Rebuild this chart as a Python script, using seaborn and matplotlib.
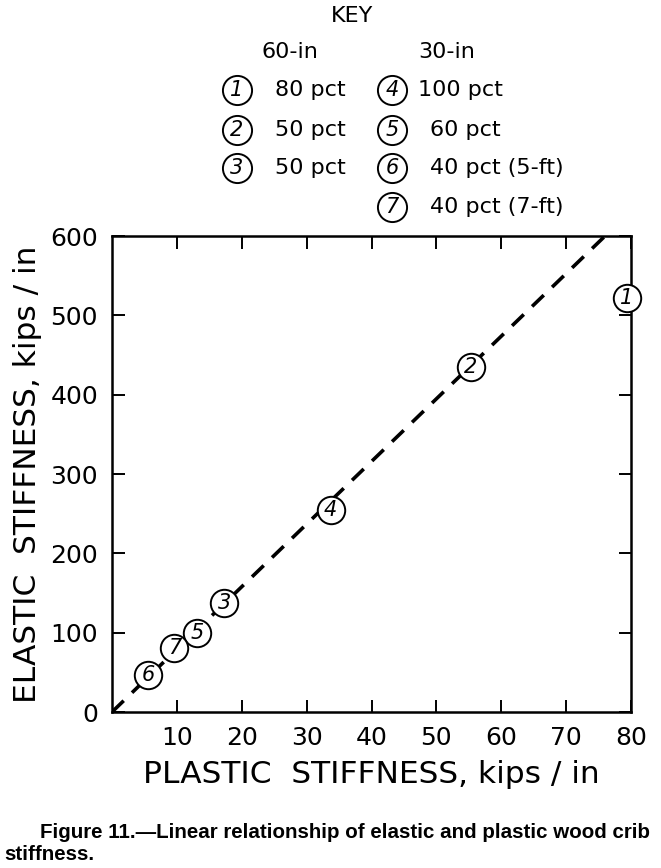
import matplotlib
matplotlib.use("Agg")
import matplotlib.pyplot as plt
import seaborn as sns
import pandas as pd

# ---- data ----
point_ids = ["1", "2", "3", "4", "5", "6", "7"]
plastic = [79.4, 55.3, 17.3, 33.7, 13.1, 5.6, 9.6]
elastic = [522, 435, 137, 255, 100, 47, 81]
fit_x = [0, 76]
fit_y = [0, 600]
x_ticks = [10, 20, 30, 40, 50, 60, 70, 80]
y_ticks = [0, 100, 200, 300, 400, 500, 600]
key_60_ids = ["1", "2", "3"]
key_60_labels = ["80 pct", "50 pct", "50 pct"]
key_30_ids = ["4", "5", "6", "7"]
key_30_labels = ["100 pct", "60 pct", "40 pct (5-ft)", "40 pct (7-ft)"]

df = pd.DataFrame({"id": point_ids, "plastic": plastic, "elastic": elastic})

sns.set_theme(style="ticks")
plt.rcParams["font.family"] = ["DejaVu Sans"]
plt.rcParams["text.color"] = "black"
plt.rcParams["axes.labelcolor"] = "black"
plt.rcParams["xtick.color"] = "black"
plt.rcParams["ytick.color"] = "black"

W, H = 661, 868
fig = plt.figure(figsize=(W / 100, H / 100), dpi=100)
ax = fig.add_axes([112 / W, 1 - 712 / H, (631 - 112) / W, (712 - 236) / H])

# dashed fit line
sns.lineplot(x=fit_x, y=fit_y, ax=ax, color="black", linewidth=2.6,
             dashes=False, linestyle=(0, (4.5, 3.2)), zorder=1)

# circle markers
sns.scatterplot(data=df, x="plastic", y="elastic", ax=ax, s=390,
                facecolor="white", edgecolor="black", linewidth=1.4,
                zorder=3, clip_on=False)
for _, r in df.iterrows():
    ax.text(r["plastic"], r["elastic"], r["id"], ha="center", va="center",
            fontsize=15, style="italic", color="black", zorder=4, clip_on=False)

ax.set_xlim(0, 80)
ax.set_ylim(0, 600)
ax.set_xticks(x_ticks)
ax.set_yticks(y_ticks)
ax.tick_params(direction="in", length=9, width=1.4, top=True, right=True,
               labelsize=18, colors="black", pad=10)
for s in ax.spines.values():
    s.set_linewidth(1.8)
    s.set_color("black")

ax.set_xlabel("PLASTIC  STIFFNESS, kips / in", fontsize=22.5, labelpad=7,
              color="black")
ax.set_ylabel("ELASTIC  STIFFNESS, kips / in", fontsize=22.5, labelpad=6,
              color="black")

# ---- key (overlay in pixel coordinates) ----
ov = fig.add_axes([0, 0, 1, 1])
ov.set_xlim(0, W)
ov.set_ylim(H, 0)
ov.axis("off")
ov.patch.set_alpha(0)

ov.text(352, 16, "KEY", ha="center", va="center", fontsize=16)
ov.text(290, 52, "60-in", ha="center", va="center", fontsize=16)
ov.text(447, 52, "30-in", ha="center", va="center", fontsize=16)

rows_y = [90, 130, 168, 207]
for i, (pid, lab) in enumerate(zip(key_60_ids, key_60_labels)):
    ov.scatter([237], [rows_y[i]], s=440, facecolor="white", edgecolor="black",
               linewidth=1.4, zorder=3)
    ov.text(237, rows_y[i], pid, ha="center", va="center", fontsize=15,
            style="italic", zorder=4)
    ov.text(275, rows_y[i], lab, ha="left", va="center", fontsize=16)
for i, (pid, lab) in enumerate(zip(key_30_ids, key_30_labels)):
    ov.scatter([392], [rows_y[i]], s=440, facecolor="white", edgecolor="black",
               linewidth=1.4, zorder=3)
    ov.text(392, rows_y[i], pid, ha="center", va="center", fontsize=15,
            style="italic", zorder=4)
    ov.text(418 if i == 0 else 430, rows_y[i], lab, ha="left", va="center", fontsize=16)

# caption
ov.text(40, 833, "Figure 11.\u2014Linear relationship of elastic and plastic wood crib",
        ha="left", va="center", fontsize=14.8, fontweight="bold",
        family=["Liberation Sans", "DejaVu Sans"])
ov.text(4, 855, "stiffness.", ha="left", va="center", fontsize=14.8, fontweight="bold",
        family=["Liberation Sans", "DejaVu Sans"])

fig.savefig("out.png", dpi=100)
